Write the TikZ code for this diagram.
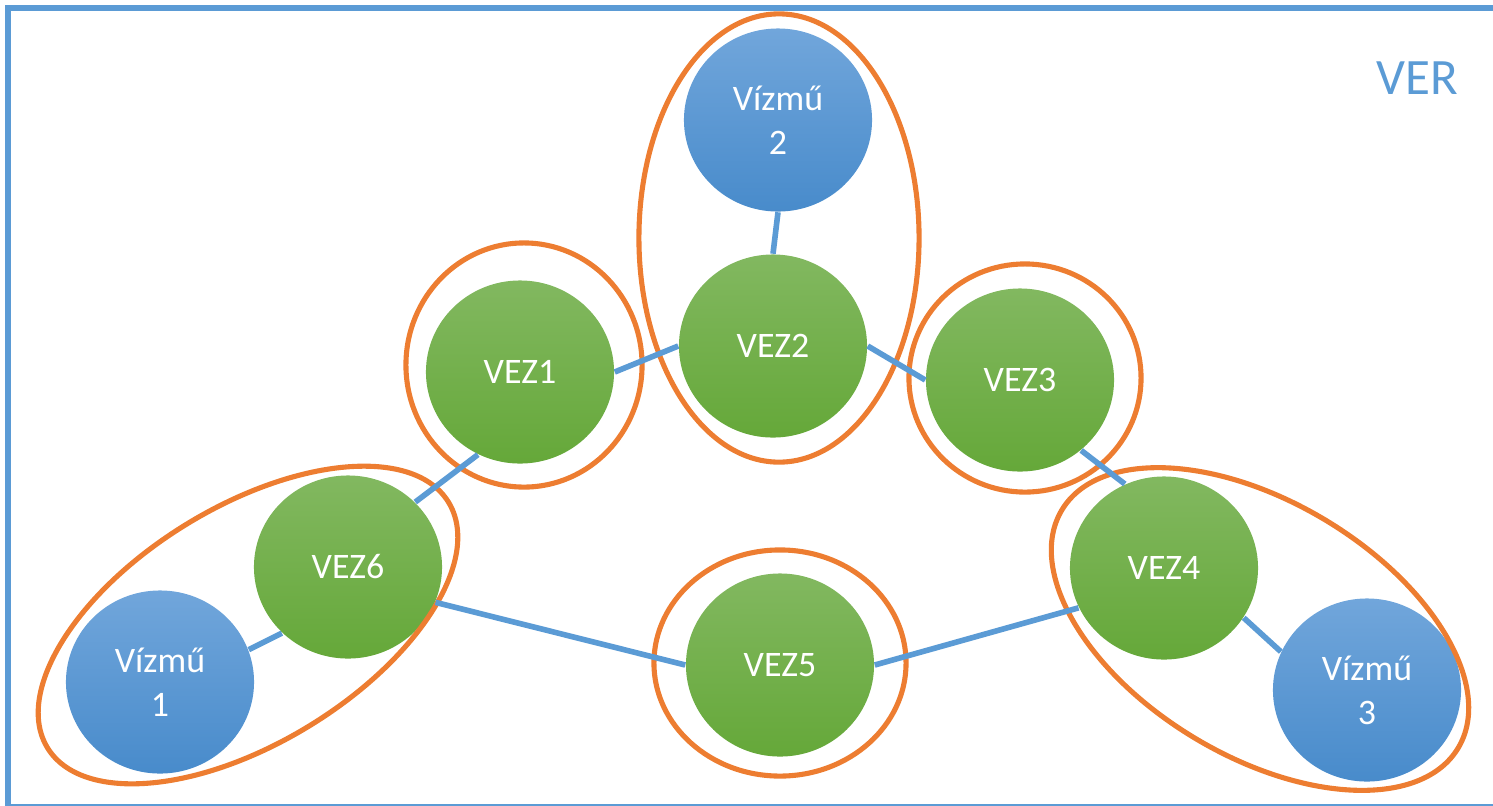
\documentclass[tikz,border=0pt]{standalone}
\usepackage{fontspec}
\setmainfont{Carlito}
\usetikzlibrary{shapes.geometric}
\definecolor{lineblue}{RGB}{91,155,213}
\definecolor{ringorange}{RGB}{237,125,49}
\definecolor{bluetop}{RGB}{113,166,219}
\definecolor{bluebot}{RGB}{72,139,203}
\definecolor{greentop}{RGB}{130,184,96}
\definecolor{greenbot}{RGB}{101,168,57}
\begin{document}
\begin{tikzpicture}
  [x=0.01cm,y=-0.01cm,
   every node/.style={ellipse,inner sep=0pt,minimum width=1.88cm,minimum height=1.83cm,
     text=white,align=center,font=\fontsize{10.2}{12.5}\selectfont},
   vez/.style={top color=greentop,bottom color=greenbot},
   viz/.style={top color=bluetop,bottom color=bluebot},
   ring/.style={draw=ringorange,line width=1.45pt},
   link/.style={draw=lineblue,line width=1.6pt},
   vertext/.style={rectangle,minimum size=0pt,text=lineblue,font=\fontsize{14.5}{17}\selectfont}]
  \useasboundingbox (0,0) rectangle (1493,805);
  \draw[lineblue,line width=1.7pt] (8,8) rectangle (1500,807);
  \node[vertext] (ver) at (1417,78) {VER};

  \node[viz] (w2) at (778,120)  {Vízmű\\2};
  \node[vez] (z2) at (773,346)  {VEZ2};
  \node[vez] (z1) at (520,372)  {VEZ1};
  \node[vez] (z3) at (1020,380) {VEZ3};
  \node[vez] (z6) at (348,567)  {VEZ6};
  \node[vez] (z5) at (780,665)  {VEZ5};
  \node[vez] (z4) at (1164,568) {VEZ4};
  \node[viz] (w1) at (160,682)  {Vízmű\\1};
  \node[viz] (w3) at (1367,690) {Vízmű\\3};

  % groups
  \draw[ring] (779,238) ellipse [x radius=1.40cm,y radius=2.24cm];
  \draw[ring] (524,365) ellipse [x radius=1.18cm,y radius=1.22cm];
  \draw[ring] (1025,378) ellipse [x radius=1.16cm,y radius=1.14cm];
  \draw[ring] (780,663) ellipse [x radius=1.26cm,y radius=1.13cm];
  \draw[ring] (248,625) ellipse [x radius=2.35cm,y radius=1.18cm,rotate=31.5];
  \draw[ring] (1260,629) ellipse [x radius=2.31cm,y radius=1.27cm,rotate=-31];

  \foreach \from/\to in {w2.south/z2.north,z1.east/z2.west,z2.east/z3.west,z1.-117/z6.44,
      z3.-49/z4.115,z6.-135/w1.20,z6.-22/z5.west,z5.east/z4.205,z4.-32/w3.156}
    \draw[link] (\from) -- (\to);

\end{tikzpicture}
\end{document}
